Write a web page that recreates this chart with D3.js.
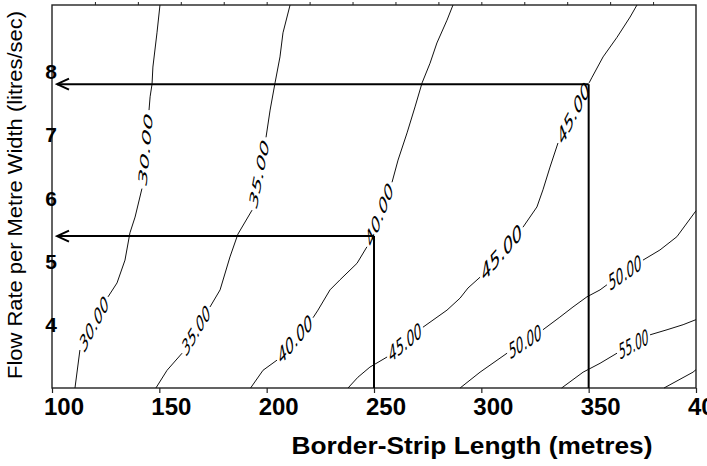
<!DOCTYPE html>
<html>
<head>
<meta charset="utf-8">
<script src="https://cdn.jsdelivr.net/npm/d3@7"></script>
<style>
  body { margin: 0; background: #fff; }
  svg { display: block; }
</style>
</head>
<body>
<div id="chart"></div>
<script>
// contour lines, [length m, flow l/s]
// each contour is cut into pieces, a label sits in every gap between two pieces
const levels = ["30.00", "35.00", "40.00", "45.00", "50.00", "55.00", "60.00"];

const contour30 = [
  [[110.7, 3.0], [113.0, 3.60]],
  [[126.1, 4.44], [130.3, 4.66], [134.0, 5.02], [136.3, 5.45], [138.7, 5.70], [141.9, 6.15]],
  [[145.2, 7.39], [145.7, 7.60], [146.6, 7.80], [147.0, 8.07], [148.9, 8.61], [150.3, 9.05]]
];
const contour35 = [
  [[148.4, 3.0], [153.6, 3.28], [160.6, 3.55]],
  [[173.6, 4.28], [178.3, 4.55], [182.9, 5.07], [186.6, 5.43], [193.2, 5.81]],
  [[199.7, 6.96], [201.6, 7.39], [203.9, 7.82], [206.2, 8.23], [207.6, 8.61], [210.9, 9.05]]
];
const contour40 = [
  [[192.5, 3.0], [198.3, 3.28], [204.8, 3.44]],
  [[221.6, 4.11], [223.9, 4.23], [229.5, 4.55], [234.2, 4.71], [242.1, 4.97], [246.7, 5.23]],
  [[258.4, 6.25], [261.2, 6.60], [265.4, 7.03], [269.1, 7.44], [272.4, 7.82], [276.1, 8.13], [279.3, 8.45], [284.0, 8.81], [286.8, 9.05]]
];
const contour45 = [
  [[237.9, 3.0], [242.5, 3.17], [248.1, 3.33], [256.1, 3.49]],
  [[272.8, 3.96], [284.0, 4.23], [290.1, 4.42], [293.8, 4.58], [299.4, 4.75]],
  [[319.4, 5.54], [325.9, 5.86], [328.7, 6.13], [332.0, 6.49], [335.7, 6.87]],
  [[350.2, 7.82], [351.6, 7.91], [356.7, 8.23], [363.2, 8.54], [369.3, 8.86], [372.5, 9.05]]
];
const contour50 = [
  [[290.1, 3.0], [299.4, 3.25], [312.0, 3.55]],
  [[328.7, 3.92], [336.6, 4.12], [342.7, 4.28], [349.2, 4.44], [355.3, 4.55], [358.5, 4.63]],
  [[375.3, 5.02], [383.2, 5.18], [391.1, 5.39], [400, 5.80]]
];
const contour55 = [
  [[337.4, 3.0], [347.4, 3.25], [355.3, 3.39], [363.2, 3.55]],
  [[378.6, 3.84], [386.5, 3.92], [394.0, 4.00], [400, 4.08]]
];
const contour60 = [
  [[385.1, 3.0], [398.6, 3.25], [400, 3.29]]
];
const contours = [contour30, contour35, contour40, contour45, contour50, contour55, contour60];

// the two read-offs drawn with arrows
const readings = [{x: 250, y: 5.4}, {x: 350, y: 7.8}];

const xTicks = [100, 150, 200, 250, 300, 350, 400];
const topTicks = [120, 140, 160, 180, 200, 220, 240, 260, 280, 300, 320, 340, 360, 380];
const yTicks = [4, 5, 6, 7, 8];

const width = 707, height = 466;
const plot = {left: 52, right: 696, top: 5, bottom: 388};
// the scanned labels are stretched vertically, like the plot was
const stretch = 1.8;

const svg = d3.select("#chart").append("svg")
  .attr("width", width)
  .attr("height", height);

const x = d3.scaleLinear().domain([100, 400]).range([plot.left, plot.right]);
const y = d3.scaleLinear().domain([3, 9.05]).range([plot.bottom, plot.top]);

const line = d3.line().x(d => x(d[0])).y(d => y(d[1]));

// frame
svg.append("rect")
  .attr("x", plot.left).attr("y", plot.top)
  .attr("width", plot.right - plot.left).attr("height", plot.bottom - plot.top)
  .attr("fill", "none").attr("stroke", "#222").attr("stroke-width", 1.4);

// bottom axis, labels sit a little right of the ticks
svg.append("g")
  .attr("transform", `translate(0,${plot.bottom})`)
  .call(d3.axisBottom(x).tickValues(xTicks).tickSize(5).tickFormat(""))
  .call(g => g.select(".domain").remove())
  .call(g => g.selectAll("line").attr("stroke", "#222").attr("stroke-width", 1.2));

svg.append("g").selectAll("text")
  .data(xTicks)
  .enter()
  .append("text")
  .attr("x", d => x(d) + 12)
  .attr("y", 415)
  .attr("text-anchor", "middle")
  .style("font-family", "'Liberation Sans', Arial, sans-serif")
  .style("font-weight", "bold")
  .style("font-size", "24px")
  .text(d => d);

// small ticks along the top edge
svg.append("g")
  .attr("transform", `translate(0,${plot.top})`)
  .call(d3.axisTop(x).tickValues(topTicks).tickSize(3).tickFormat(""))
  .call(g => g.select(".domain").remove())
  .call(g => g.selectAll("line").attr("stroke", "#222"));

// left labels
svg.append("g").selectAll("text")
  .data(yTicks)
  .enter()
  .append("text")
  .attr("x", 51)
  .attr("y", d => y(d))
  .attr("dy", "0.36em")
  .attr("text-anchor", "middle")
  .style("font-family", "'Liberation Sans', Arial, sans-serif")
  .style("font-weight", "bold")
  .style("font-size", "21px")
  .text(d => d);

// contour lines and their labels
contours.forEach((pieces, ci) => {
  const g = svg.append("g");
  g.selectAll("path")
    .data(pieces)
    .enter()
    .append("path")
    .attr("d", line)
    .attr("fill", "none")
    .attr("stroke", "#111")
    .attr("stroke-width", 1);

  for (let i = 0; i < pieces.length - 1; i++) {
    const a = pieces[i][pieces[i].length - 1];
    const b = pieces[i + 1][0];
    const ax = x(a[0]), ay = y(a[1]), bx = x(b[0]), by = y(b[1]);
    // work in the unstretched space, then scale y back up
    const dx = bx - ax, dy = (by - ay) / stretch;
    const len = Math.hypot(dx, dy);
    const ang = Math.atan2(dy, dx) * 180 / Math.PI;
    g.append("text")
      .attr("transform", `translate(${(ax + bx) / 2},${(ay + by) / 2}) scale(1,${stretch}) rotate(${ang})`)
      .attr("text-anchor", "middle")
      .attr("dy", "0.36em")
      .attr("textLength", Math.max(len - 4, 16))
      .attr("lengthAdjust", "spacingAndGlyphs")
      .style("font-family", "'DejaVu Sans', sans-serif")
      .style("font-style", "italic")
      .style("font-size", "12px")
      .text(levels[ci]);
  }
});

// read-off lines with arrows pointing at the flow axis
svg.append("defs").append("marker")
  .attr("id", "arrow")
  .attr("viewBox", "-14 -7 16 14")
  .attr("refX", 0).attr("refY", 0)
  .attr("markerUnits", "userSpaceOnUse")
  .attr("markerWidth", 16).attr("markerHeight", 14)
  .attr("orient", "auto")
  .append("path")
  .attr("d", "M-12,-5.5L0,0L-12,5.5")
  .attr("fill", "none")
  .attr("stroke", "#000")
  .attr("stroke-width", 2);

svg.selectAll(".vline")
  .data(readings)
  .enter()
  .append("line")
  .attr("class", "vline")
  .attr("x1", d => x(d.x)).attr("x2", d => x(d.x))
  .attr("y1", y(3)).attr("y2", d => y(d.y))
  .attr("stroke", "#000").attr("stroke-width", 2);

svg.selectAll(".hline")
  .data(readings)
  .enter()
  .append("line")
  .attr("class", "hline")
  .attr("x1", d => x(d.x)).attr("x2", x(100) + 5)
  .attr("y1", d => y(d.y)).attr("y2", d => y(d.y))
  .attr("stroke", "#000").attr("stroke-width", 2)
  .attr("marker-end", "url(#arrow)");

// axis titles
svg.append("text")
  .attr("x", 472)
  .attr("y", 454)
  .attr("text-anchor", "middle")
  .attr("textLength", 361)
  .attr("lengthAdjust", "spacingAndGlyphs")
  .style("font-family", "'Liberation Sans', Arial, sans-serif")
  .style("font-weight", "bold")
  .style("font-size", "23px")
  .text("Border-Strip Length (metres)");

svg.append("text")
  .attr("transform", "translate(22,195) rotate(-90)")
  .attr("text-anchor", "middle")
  .attr("textLength", 368)
  .attr("lengthAdjust", "spacingAndGlyphs")
  .style("font-family", "'Liberation Sans', Arial, sans-serif")
  .style("font-size", "20px")
  .text("Flow Rate per Metre Width (litres/sec)");
</script>
</body>
</html>
